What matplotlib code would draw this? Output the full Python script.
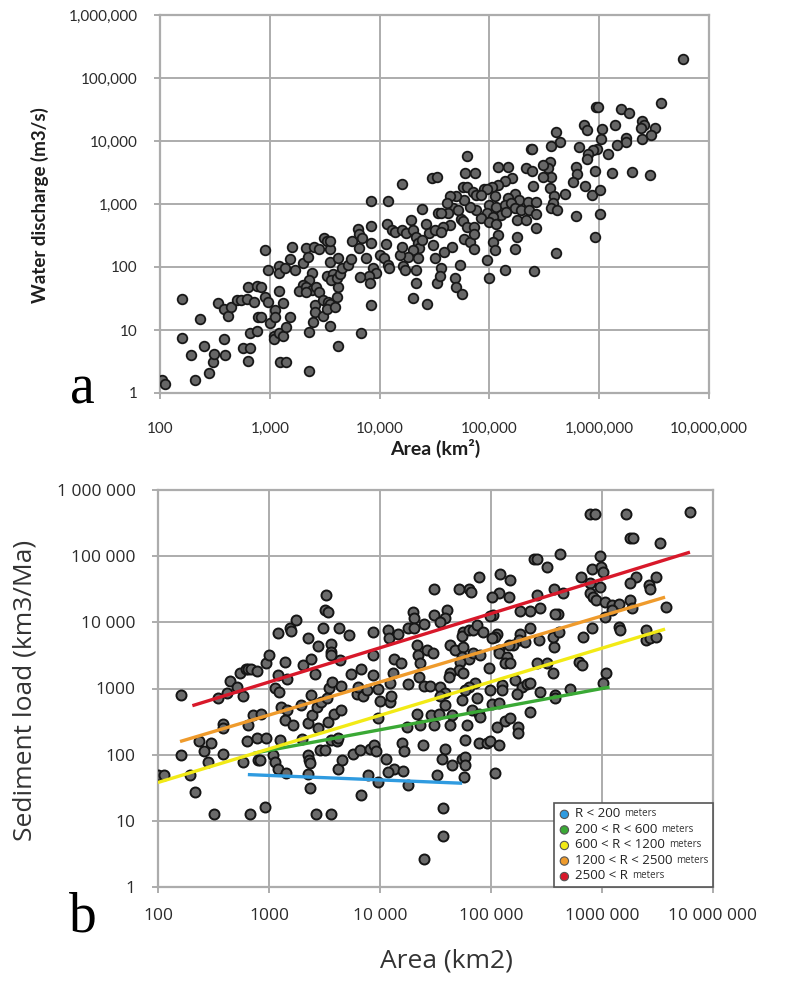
import numpy as np
import matplotlib
matplotlib.use("Agg")
import matplotlib.pyplot as plt
from matplotlib.offsetbox import TextArea, HPacker, VPacker, DrawingArea, AnchoredOffsetbox
from matplotlib.patches import Circle

# ---------------- DATA (stored as log10) ----------------
# Panel a: log10(Area km2), log10(Water discharge m3/s)
a_log_area = [
    2.02, 2.05, 2.32, 2.45, 2.28, 2.40, 2.48, 2.49, 2.58, 2.59, 2.20, 2.36, 2.20, 2.76, 2.82, 2.80,
    2.53, 2.58, 2.62, 2.65, 2.70, 2.74, 2.79, 2.86, 2.80, 2.88, 2.92, 2.82, 2.88, 2.89, 2.92, 2.96,
    2.98, 2.96, 2.98, 3.00, 3.05, 3.05, 3.04, 3.04, 3.08, 3.12, 3.15, 3.18, 3.12, 3.08, 3.09, 3.15,
    3.08, 3.08, 3.14, 3.18, 3.20, 3.23, 3.30, 3.33, 3.35, 3.40, 3.45, 3.49, 3.52, 3.55, 3.55, 3.38,
    3.36, 3.30, 3.27, 3.33, 3.38, 3.42, 3.45, 3.33, 3.41, 3.41, 3.48, 3.48, 3.53, 3.55, 3.52, 3.59,
    3.61, 3.62, 3.39, 3.36, 3.55, 3.62, 3.36, 3.52, 3.58, 3.56, 3.61, 3.64, 3.55, 3.62, 3.66, 3.71,
    3.74, 3.75, 3.80, 3.81, 3.84, 3.81, 3.92, 3.92, 3.92, 3.88, 3.94, 3.97, 3.90, 3.82, 3.91, 3.92,
    3.83, 4.00, 4.04, 4.08, 4.09, 4.06, 4.07, 4.11, 4.20, 4.08, 4.14, 4.20, 4.24, 4.29, 4.30, 4.33,
    4.35, 4.36, 4.30, 4.26, 4.19, 4.20, 4.39, 4.42, 4.45, 4.39, 4.35, 4.21, 4.23, 4.33, 4.33, 4.30,
    4.43, 4.48, 4.52, 4.53, 4.50, 4.49, 4.50, 4.52,
    6.76, 6.56, 6.20, 6.27, 5.97, 5.99, 6.39, 6.41, 6.38, 6.51, 6.47, 6.39, 6.24, 6.24, 6.16, 6.14,
    6.03, 6.02, 5.86, 5.89, 5.98, 5.94, 5.90, 5.89, 6.08, 5.82, 5.61, 5.64, 5.56, 5.38, 5.39, 6.12,
    6.30, 6.46, 5.96, 5.87, 5.93, 6.01, 5.79, 5.80, 5.76, 5.55, 5.53, 5.56, 5.49, 5.49, 5.33, 5.39,
    5.40, 5.55, 5.59, 5.58, 5.56, 5.62, 5.69, 5.79, 6.01, 5.96, 5.61, 5.41, 5.17, 5.08, 4.80, 4.78,
    4.87, 5.21, 5.14, 5.08, 5.02, 4.95, 4.98, 4.76, 4.80, 4.85, 4.88, 4.92, 5.05, 5.23, 5.17, 5.27,
    5.35, 5.42, 5.00, 5.06, 5.14, 5.20, 5.23, 5.29, 5.36, 5.11, 5.15, 4.98, 5.03, 4.92, 5.00, 5.06,
    5.25, 5.33, 5.42, 5.42, 4.88, 4.82, 4.77, 4.70, 4.64, 4.67, 4.62, 4.56, 4.61, 4.74, 4.76, 4.71,
    4.64, 4.58, 4.56, 4.80, 4.86, 4.77, 4.82, 4.86, 4.86, 5.08, 5.03, 5.05, 5.25, 5.23, 4.66, 4.59,
    4.98, 5.14, 5.00, 4.73, 4.56, 4.55, 4.69, 4.70, 4.75,
]
a_log_discharge = [
    0.21, 0.15, 0.20, 0.32, 0.61, 0.75, 0.49, 0.62, 0.85, 0.61, 0.88, 1.17, 1.50, 0.71, 0.71, 0.51,
    1.43, 1.34, 1.23, 1.37, 1.48, 1.48, 1.50, 1.45, 1.69, 1.70, 1.68, 0.96, 0.99, 1.21, 1.21, 2.27,
    1.95, 1.53, 1.45, 1.11, 1.32, 1.21, 0.90, 0.85, 0.96, 0.90, 1.05, 1.21, 1.43, 1.62, 0.50, 0.50,
    2.01, 1.90, 1.98, 2.12, 2.32, 1.95, 2.07, 2.30, 2.16, 2.31, 2.28, 2.46, 2.42, 2.29, 2.42, 1.91,
    1.79, 1.71, 1.62, 1.69, 1.63, 1.69, 1.61, 1.61, 1.40, 1.29, 1.22, 1.48, 1.45, 1.42, 1.34, 1.37,
    1.53, 1.68, 1.12, 0.97, 1.06, 0.74, 0.35, 1.85, 1.89, 1.79, 1.82, 1.89, 2.08, 2.14, 1.99, 2.03,
    2.12, 2.42, 2.61, 2.53, 2.46, 2.30, 2.65, 3.04, 2.38, 2.15, 1.98, 1.90, 1.86, 1.84, 1.75, 1.40,
    0.95, 2.19, 2.15, 2.03, 1.99, 2.37, 2.68, 2.59, 3.32, 3.04, 2.56, 2.59, 2.54, 2.74, 2.59, 2.48,
    2.38, 2.30, 2.27, 2.16, 2.19, 2.32, 2.92, 2.68, 2.54, 2.43, 2.15, 2.01, 1.96, 1.96, 1.75, 1.51,
    1.42, 3.41, 3.43, 2.86, 2.59, 2.35, 2.14, 1.74,
    5.30, 4.61, 4.51, 4.45, 4.54, 4.54, 4.31, 4.25, 4.20, 4.20, 4.10, 4.03, 4.04, 3.99, 3.93, 4.25,
    4.19, 4.03, 4.25, 4.17, 3.88, 3.86, 3.80, 3.72, 3.79, 3.90, 4.14, 3.99, 3.92, 3.88, 3.88, 3.49,
    3.51, 3.46, 3.52, 3.29, 3.15, 3.23, 3.59, 3.48, 3.35, 3.66, 3.57, 3.43, 3.62, 3.43, 3.57, 3.53,
    3.29, 3.25, 3.12, 3.01, 2.93, 2.90, 3.16, 2.81, 2.84, 2.48, 2.23, 1.94, 3.59, 3.59, 3.76, 3.49,
    3.49, 3.42, 3.36, 3.30, 3.27, 3.24, 3.24, 3.27, 3.27, 3.19, 3.14, 3.14, 3.12, 3.16, 3.09, 3.06,
    3.03, 3.03, 2.98, 2.96, 2.98, 3.01, 2.93, 2.90, 2.90, 2.82, 2.88, 2.85, 2.80, 2.78, 2.72, 2.69,
    2.75, 2.75, 2.84, 2.62, 2.90, 2.96, 3.06, 3.12, 3.12, 2.93, 2.85, 2.85, 3.01, 2.76, 2.73, 2.90,
    2.67, 2.64, 2.56, 2.64, 2.64, 2.45, 2.40, 2.53, 2.29, 2.51, 2.40, 2.27, 2.47, 2.28, 2.32, 2.24,
    2.11, 1.95, 1.82, 2.03, 1.98, 1.85, 1.82, 1.69, 1.57,
]

# Panel b: log10(Area km2), log10(Sediment load km3/Ma)
b_log_area = [
    2.00, 2.05, 2.21, 2.21, 2.29, 2.33, 2.37, 2.41, 2.45, 2.48, 2.50, 2.54, 2.59, 2.59, 2.59, 2.62,
    2.65, 2.71, 2.74, 2.77, 2.79, 2.81, 2.84, 2.89, 2.77, 2.80, 2.81, 2.83, 2.86, 2.89, 2.90, 2.92,
    2.93, 2.96, 2.97, 2.97, 3.00, 3.04, 3.05, 3.05, 3.08, 3.09, 3.08, 3.08, 3.10, 3.11, 3.14, 3.16,
    3.16, 3.15, 3.14, 3.19, 3.20, 3.22, 3.24, 3.31, 3.29, 3.30, 3.35, 3.35, 3.35, 3.36, 3.37, 3.37,
    3.35, 3.38, 3.38, 3.39, 3.41, 3.43, 3.44, 3.42, 3.44, 3.46, 3.47, 3.49, 3.50, 3.53, 3.51, 3.50,
    3.52, 3.53, 3.54, 3.56, 3.56, 3.56, 3.56, 3.56, 3.57, 3.59, 3.61, 3.62, 3.62, 3.63, 3.64, 3.65,
    3.65, 3.66, 3.72, 3.74, 3.76, 3.79, 3.80, 3.83, 3.82, 3.83, 3.85, 3.88, 3.89, 3.91, 3.94, 3.94,
    3.94, 3.95, 3.96, 3.98, 3.98, 3.98, 4.00, 4.05, 4.07, 4.08, 4.09, 4.09, 4.10, 4.12, 4.13, 4.13,
    4.07, 4.16, 4.19, 4.21, 4.20, 4.22, 4.24, 4.25, 4.25, 4.25, 4.30, 4.31, 4.31, 4.33, 4.34, 4.36,
    4.35, 4.33, 4.36, 4.39, 4.40, 4.40, 4.42, 4.40, 4.45, 4.46, 4.48, 4.49, 4.49, 4.51, 4.49,
    6.79, 5.89, 5.94, 6.22, 6.25, 6.28, 6.52, 5.98, 5.62, 5.39, 5.41, 5.50, 5.91, 5.99, 6.01, 5.81,
    5.89, 5.98, 5.89, 5.92, 5.95, 6.03, 6.09, 6.15, 6.25, 6.27, 6.09, 6.03, 6.31, 6.25, 6.42, 6.43,
    6.49, 6.58, 6.15, 6.16, 6.40, 6.40, 6.43, 6.49, 5.91, 5.83, 5.79, 5.82, 6.04, 6.01, 5.71, 5.58,
    5.58, 5.35, 5.44, 5.50, 5.56, 5.41, 5.57, 5.56, 5.61, 5.60, 5.58, 5.65, 5.57, 5.41, 5.44, 5.35,
    5.26, 5.35, 5.43, 5.26, 5.25, 5.31, 5.20, 5.16, 5.17, 5.08, 5.16, 5.07, 5.01, 5.02, 4.99, 5.05,
    5.04, 5.01, 5.07, 5.07, 5.14, 5.13, 5.17, 4.98, 4.89, 4.80, 4.82, 4.71, 4.60, 4.59, 4.54, 4.75,
    4.74, 4.80, 4.84, 4.87, 4.93, 4.63, 4.68, 4.75, 4.74, 4.80, 4.72, 4.84, 4.90, 4.71, 4.75, 4.63,
    4.62, 4.86, 4.80, 4.77, 4.74, 4.87, 4.54, 4.59, 4.54, 4.99, 5.10, 5.22, 5.28, 5.32, 5.35, 5.23,
    5.10, 5.01, 5.07, 4.83, 4.89, 4.90, 4.59, 4.53, 4.65, 4.63, 4.78, 5.05, 5.13, 5.17, 5.24, 5.24,
    4.77, 4.89, 4.96, 4.99, 5.07, 4.59, 4.56, 4.65, 4.74, 4.77, 4.77, 4.76, 5.04, 4.57, 4.57,
]
b_log_load = [
    1.69, 1.69, 2.90, 2.00, 1.70, 1.44, 2.21, 2.05, 1.89, 2.18, 1.10, 2.86, 2.47, 2.40, 2.01, 2.93,
    3.11, 3.03, 3.23, 2.88, 3.30, 3.30, 3.29, 3.27, 1.89, 2.21, 2.45, 1.10, 2.60, 2.25, 1.92, 1.92,
    2.61, 1.21, 2.25, 3.39, 3.50, 1.99, 1.89, 3.01, 3.20, 2.94, 3.84, 1.79, 2.22, 2.72, 3.40, 2.67,
    3.15, 1.72, 2.53, 3.91, 3.87, 2.45, 4.04, 3.35, 2.75, 2.23, 3.77, 2.48, 1.99, 1.92, 1.87, 1.49,
    1.71, 2.90, 3.45, 2.60, 3.22, 2.72, 3.64, 1.10, 2.40, 2.07, 2.80, 3.91, 4.19, 4.16, 4.41, 2.07,
    2.85, 2.49, 3.01, 3.68, 3.55, 3.50, 1.11, 2.22, 3.10, 2.61, 2.20, 1.79, 2.25, 3.91, 3.43, 2.67,
    3.04, 1.92, 3.81, 3.22, 2.01, 2.92, 3.03, 3.29, 2.07, 1.39, 2.88, 2.97, 1.70, 2.08, 3.86, 3.51,
    3.20, 2.14, 2.06, 3.00, 2.55, 1.58, 2.81, 1.93, 3.88, 3.77, 3.08, 2.80, 2.88, 3.23, 3.44, 1.78,
    1.74, 3.83, 3.38, 1.76, 2.18, 2.06, 2.42, 1.54, 3.07, 3.91, 4.16, 4.06, 3.91, 3.66, 3.50, 3.38,
    3.17, 2.61, 2.45, 2.14, 0.42, 3.98, 3.58, 3.04, 3.04, 2.60, 3.53, 4.51, 4.11, 1.69, 2.45,
    5.67, 5.63, 5.63, 5.64, 5.28, 5.28, 5.20, 5.00, 5.03, 4.95, 4.95, 4.83, 4.80, 4.83, 4.76, 4.68,
    4.60, 4.54, 4.45, 4.39, 4.34, 4.31, 4.26, 4.28, 4.33, 4.21, 4.18, 4.08, 4.68, 4.60, 4.56, 4.50,
    4.68, 4.23, 3.93, 3.88, 3.89, 3.73, 3.76, 3.78, 3.92, 3.78, 3.40, 3.35, 3.24, 3.09, 3.00, 2.90,
    2.85, 2.65, 2.95, 3.38, 3.24, 3.39, 3.62, 3.78, 3.86, 4.12, 4.12, 4.45, 4.50, 4.41, 4.22, 4.17,
    4.17, 3.91, 3.74, 3.83, 3.73, 3.71, 3.66, 3.66, 4.64, 4.73, 4.39, 4.45, 4.38, 4.11, 4.09, 3.83,
    3.78, 3.76, 3.58, 3.53, 3.48, 3.38, 3.38, 3.31, 4.68, 4.50, 4.46, 4.50, 4.18, 4.06, 4.01, 3.86,
    3.79, 3.88, 3.88, 3.96, 3.86, 3.66, 3.58, 3.63, 3.48, 3.45, 3.40, 3.53, 3.50, 3.28, 3.23, 3.23,
    3.18, 3.08, 3.03, 2.98, 2.83, 2.85, 3.03, 2.93, 2.88, 2.98, 3.05, 3.13, 3.03, 3.07, 3.09, 2.92,
    2.98, 2.77, 2.78, 2.67, 2.61, 2.57, 2.75, 2.62, 2.60, 2.45, 2.45, 2.42, 2.51, 2.55, 2.42, 2.32,
    2.22, 2.18, 2.18, 2.21, 2.15, 2.09, 1.94, 1.84, 1.93, 1.97, 1.84, 1.66, 1.72, 1.19, 0.77,
]

# Panel b trend lines (start/end area, start/end load) per relief class
trend_labels = ["R < 200", "200 < R < 600", "600 < R < 1200", "1200 < R < 2500", "2500 < R"]
trend_colors = ["#2f9be0", "#3aa935", "#f2ea16", "#ef9b2c", "#d8182a"]
trend_area_start = [645, 725, 100, 158, 204]
trend_area_end = [55000, 1.17e6, 3.7e6, 3.7e6, 6.2e6]
trend_load_start = [50, 105, 38, 158, 550]
trend_load_end = [37, 1050, 7900, 24000, 115000]

a_xticks = [1e2, 1e3, 1e4, 1e5, 1e6, 1e7]
a_xticklabels = ["100", "1,000", "10,000", "100,000", "1,000,000", "10,000,000"]
a_yticks = [1, 10, 100, 1e3, 1e4, 1e5, 1e6]
a_yticklabels = ["1", "10", "100", "1,000", "10,000", "100,000", "1,000,000"]
b_xticks = [1e2, 1e3, 1e4, 1e5, 1e6, 1e7]
b_xticklabels = ["100", "1000", "10 000", "100 000", "1000 000", "10 000 000"]
b_yticks = [1, 10, 100, 1e3, 1e4, 1e5, 1e6]
b_yticklabels = ["1", "10", "100", "1000", "10 000", "100 000", "1 000 000"]

# ---------------- FIGURE ----------------
W, H = 794, 981
fig = plt.figure(figsize=(W / 100, H / 100), dpi=100)
fig.patch.set_facecolor("white")

def fx(px):
    return px / W

def fy(py):
    return 1 - py / H

GRID = "#acacac"

def style_axes(ax, xticks, xlabels, yticks, ylabels, fam, fsize, xpad, ypad):
    ax.set_xscale("log")
    ax.set_yscale("log")
    ax.set_xlim(1e2, 1e7)
    ax.set_ylim(1, 1e6)
    ax.set_xticks(xticks)
    ax.set_xticklabels(xlabels, family=fam)
    ax.set_yticks(yticks)
    ax.set_yticklabels(ylabels, family=fam)
    ax.minorticks_off()
    ax.grid(True, which="major", color=GRID, linewidth=1.4, zorder=0)
    ax.set_axisbelow(True)
    for s in ax.spines.values():
        s.set_color(GRID)
        s.set_linewidth(1.6)
    ax.tick_params(axis="both", which="major", length=4, width=1.4, color=GRID,
                   labelsize=fsize, labelcolor="#2b2b2b")
    ax.tick_params(axis="x", pad=xpad)
    ax.tick_params(axis="y", pad=ypad)

# ---- panel a ----
axa = fig.add_axes([fx(160), fy(393), fx(709) - fx(160), fy(15) - fy(393)])
style_axes(axa, a_xticks, a_xticklabels, a_yticks, a_yticklabels, "Lato", 11, 17, 12)
axa.scatter(np.power(10.0, a_log_area), np.power(10.0, a_log_discharge), s=48,
            facecolor="#666666", edgecolor="#181818", linewidth=1.3, zorder=3)

fig.text(fx(40), fy(205), "Water discharge (m3/s)", rotation=90, ha="center", va="center",
         family="Lato", fontweight="bold", fontsize=13.5, color="#1e1e1e")
fig.text(fx(435), fy(448), "Area (km\u00b2)", ha="center", va="center",
         family="Lato", fontweight="bold", fontsize=14, color="#1e1e1e")
fig.text(fx(82), fy(403), "a", ha="center", va="baseline", family="Liberation Serif",
         fontsize=40, color="black")

# ---- panel b ----
axb = fig.add_axes([fx(158), fy(887), fx(713) - fx(158), fy(490) - fy(887)])
style_axes(axb, b_xticks, b_xticklabels, b_yticks, b_yticklabels, "Open Sans", 12.5, 11, 12)
axb.scatter(np.power(10.0, b_log_area), np.power(10.0, b_log_load), s=52,
            facecolor="#6a6a6a", edgecolor="#151515", linewidth=1.4, zorder=3)
for c, x0, x1, y0, y1 in zip(trend_colors, trend_area_start, trend_area_end,
                             trend_load_start, trend_load_end):
    axb.plot([x0, x1], [y0, y1], color=c, linewidth=2.4, solid_capstyle="butt", zorder=4)

fig.text(fx(25), fy(690), "Sediment load (km3/Ma)", rotation=90, ha="center", va="center",
         family="Open Sans", fontsize=19, color="#333333")
fig.text(fx(446), fy(961), "Area (km2)", ha="center", va="center",
         family="Open Sans", fontsize=19, color="#333333")
fig.text(fx(83), fy(932), "b", ha="center", va="baseline", family="Liberation Serif",
         fontsize=40, color="black")

# legend (custom, with smaller "meters")
rows = []
for c, lab in zip(trend_colors, trend_labels):
    da = DrawingArea(9, 10, 0, 0)
    da.add_artist(Circle((4.5, 4.5), 3.0, facecolor=c, edgecolor="#555555", linewidth=0.8))
    t1 = TextArea(lab, textprops=dict(fontsize=9.5, family="Open Sans", color="#222222"))
    t2 = TextArea("meters", textprops=dict(fontsize=7, family="Open Sans", color="#333333"))
    rows.append(HPacker(children=[da, t1, t2], align="center", pad=0, sep=3))
vp = VPacker(children=rows, align="left", pad=0, sep=1.2)
box = AnchoredOffsetbox(loc="lower right", child=vp, pad=0.3, borderpad=0, frameon=True,
                        bbox_to_anchor=(1, 0), bbox_transform=axb.transAxes)
box.patch.set_edgecolor("#555555")
box.patch.set_linewidth(1.2)
box.set_zorder(6)
axb.add_artist(box)

fig.savefig("out.png", dpi=100, facecolor="white")
